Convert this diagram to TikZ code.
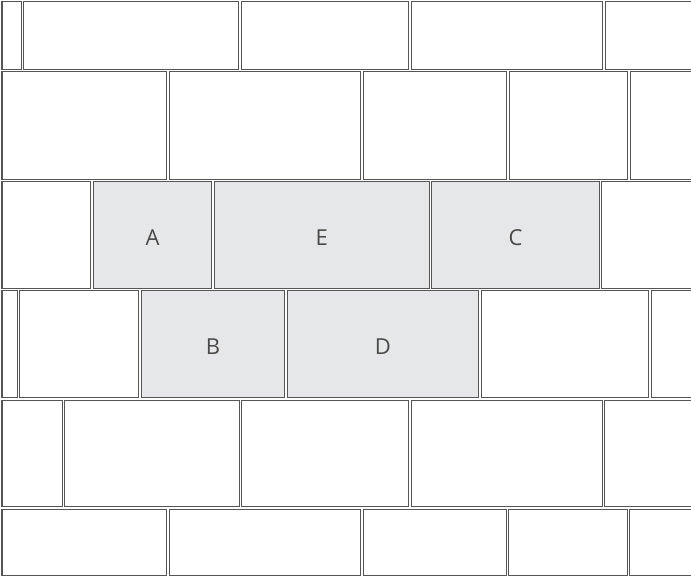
\documentclass[tikz,border=0pt]{standalone}
\usepackage{fontspec}
\setmainfont{Open Sans}
\definecolor{tilegray}{HTML}{555555}
\definecolor{shade}{HTML}{E6E7E8}
\definecolor{labelgray}{HTML}{4A4A4A}
\begin{document}
\begin{tikzpicture}[x=1pt,y=-1pt,
  tile/.style={draw=tilegray, line width=1.35pt},
  hot/.style={tile, fill=shade},
  lbl/.style={font=\fontsize{22}{22}\selectfont, text=labelgray, inner sep=0pt}]
\useasboundingbox (0,0) rectangle (691,577);
\clip (0,0) rectangle (691,577);
\foreach \ya/\yb/\xs in {0.4/70.5/{22.5,240,410,604,700},
                         70.5/180.5/{168,362,508,629,700},
                         180.5/289.5/{92,213,430.5,600.5,700},
                         289.5/399/{18.5,140,286,480,650,700},
                         399/508/{63.5,240.5,410,603.5,700},
                         508/576.6/{168,362,507.5,628.5,700}}{
  \foreach \x [remember=\x as \lx (initially 0.9)] in \xs {
    \draw[tile] (\lx+1.2,\ya+1.2) rectangle (\x-1.2,\yb-1.2);
  }
}
% highlighted tiles
\draw[hot] (92+1.2,180.5+1.2) rectangle (213-1.2,289.5-1.2);
\draw[hot] (213+1.2,180.5+1.2) rectangle (430.5-1.2,289.5-1.2);
\draw[hot] (430.5+1.2,180.5+1.2) rectangle (600.5-1.2,289.5-1.2);
\draw[hot] (140+1.2,289.5+1.2) rectangle (286-1.2,399-1.2);
\draw[hot] (286+1.2,289.5+1.2) rectangle (480-1.2,399-1.2);
\node[lbl] (A) at (152.5,238) {A};
\node[lbl] (E) at (321.8,238) {E};
\node[lbl] (C) at (515.5,238) {C};
\node[lbl] (B) at (213,347) {B};
\node[lbl] (D) at (383,347) {D};
\end{tikzpicture}
\end{document}
